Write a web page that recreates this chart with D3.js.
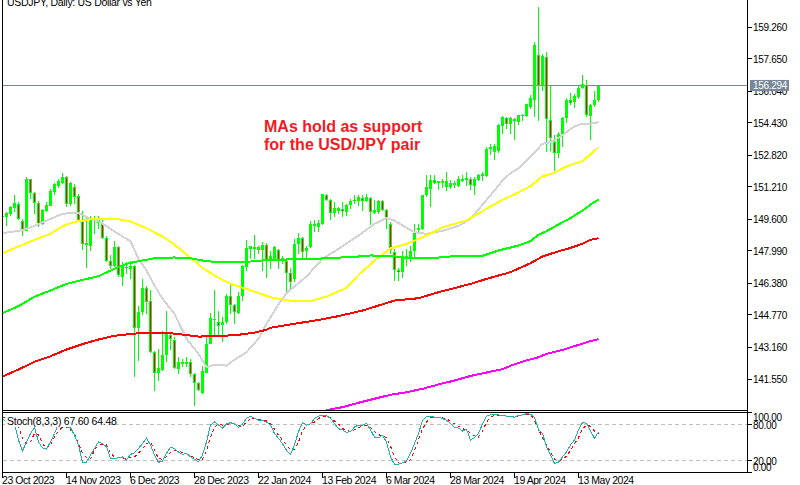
<!DOCTYPE html>
<html>
<head>
<meta charset="utf-8">
<script src="https://cdnjs.cloudflare.com/ajax/libs/d3/7.8.5/d3.min.js"></script>
<style>
  html, body { margin: 0; padding: 0; background: #fff; overflow: hidden; }
  svg { display: block; }
  text { font-family: "Liberation Sans", Arial, sans-serif; fill: #000; }
</style>
</head>
<body>
<script>
// daily candles
const opens = [149.70,149.70,149.83,150.14,150.34,149.47,148.96,151.58,150.87,150.37,
  149.33,150.00,150.25,150.91,151.26,151.38,151.68,150.34,151.21,150.71,
  149.50,148.27,148.24,149.47,149.36,149.36,148.63,147.45,147.23,148.16,
  146.65,147.12,147.07,147.23,144.10,144.89,146.11,145.44,142.87,141.83,
  141.98,142.71,143.76,143.51,142.02,142.29,142.29,142.37,141.78,141.31,
  140.81,141.85,143.29,144.47,144.38,144.22,144.38,145.71,145.26,144.84,
  145.69,147.15,148.07,148.06,148.04,148.04,148.27,147.49,147.57,148.02,
  147.54,147.45,146.87,146.56,148.32,148.63,147.99,148.16,149.20,149.16,
  149.30,150.79,150.54,149.87,149.97,150.09,149.92,150.27,150.47,150.47,
  150.62,150.47,150.64,149.90,149.92,150.47,150.03,149.33,147.90,147.02,
  146.90,147.65,147.62,147.99,149.00,149.08,150.76,151.09,151.54,151.38,
  151.41,151.21,151.21,151.29,151.26,151.51,151.54,151.61,151.26,151.54,
  151.72,151.72,153.11,152.94,152.99,154.23,154.67,154.33,154.53,154.45,
  154.75,154.78,155.20,155.57,157.84,156.29,157.72,154.57,153.44,152.89,
  153.78,154.65,155.54,155.45,155.71,156.16,156.34,154.78,155.29,155.54];
const closes = [149.73,149.88,150.20,150.37,149.58,149.00,151.61,150.89,150.40,149.33,
  150.03,150.29,150.97,151.34,151.48,151.71,150.34,151.38,150.67,149.53,
  148.32,148.39,149.50,149.53,149.58,148.63,147.44,147.20,148.19,146.78,
  147.23,147.18,147.23,144.10,144.89,146.11,145.39,142.87,141.83,142.08,
  142.71,143.80,143.55,142.08,142.39,142.40,142.40,141.78,141.33,140.99,
  141.95,143.29,144.60,144.55,144.18,144.38,145.72,145.27,144.89,145.72,
  147.20,148.12,148.24,148.16,148.16,148.27,147.52,147.69,148.16,147.52,
  147.60,146.85,146.40,148.32,148.63,147.91,148.12,149.30,149.30,149.36,
  150.81,150.54,149.87,150.14,150.14,150.00,150.30,150.50,150.54,150.67,
  150.50,150.67,149.92,150.03,150.50,150.03,149.58,148.02,147.02,146.92,
  147.69,147.69,147.99,148.86,149.10,150.76,151.21,151.56,151.41,151.48,
  151.48,151.48,151.39,151.38,151.59,151.59,151.65,151.29,151.61,151.81,
  151.82,153.11,153.22,153.27,154.28,154.70,154.37,154.65,154.62,154.83,
  154.83,155.34,155.66,158.31,156.29,157.80,154.62,153.66,152.89,153.86,
  154.67,155.54,155.41,155.74,156.18,156.38,154.82,155.32,155.57,156.29];
const highs = [149.78,149.95,150.25,150.76,150.42,149.58,151.71,151.61,150.92,150.47,
  150.09,150.42,151.09,151.38,151.59,151.90,151.75,151.43,151.34,150.84,
  150.00,149.70,149.75,149.72,149.72,149.50,148.74,147.74,148.46,148.24,
  147.40,147.40,147.45,147.28,145.22,146.56,146.18,145.98,142.91,143.04,
  143.96,144.97,143.88,143.63,142.62,142.54,142.62,142.54,141.82,141.36,
  142.20,143.63,144.85,145.98,144.94,144.63,145.81,146.28,145.31,145.89,
  147.28,148.53,148.24,148.79,148.24,148.41,148.36,147.99,148.24,148.07,
  147.69,147.62,147.12,148.58,148.86,148.69,148.24,149.47,149.53,149.50,
  150.84,150.84,150.59,150.42,150.20,150.42,150.34,150.59,150.76,150.76,
  150.76,150.84,150.67,150.54,150.54,150.54,150.09,149.41,148.07,147.12,
  147.99,148.06,148.24,149.30,149.30,150.76,151.81,151.81,151.81,151.51,
  151.59,151.93,151.54,151.51,151.76,151.81,151.93,151.71,151.71,151.85,
  151.93,153.22,153.33,153.36,154.37,154.78,154.73,154.70,154.67,154.83,
  154.87,155.37,155.79,158.47,160.23,157.89,158.00,156.29,153.78,153.95,
  154.70,155.67,155.91,155.87,156.29,156.80,156.55,155.37,156.01,156.26];
const lows = [149.67,149.20,149.75,149.92,149.50,148.74,148.96,150.59,149.83,149.16,
  149.25,149.92,150.25,150.76,151.14,151.34,150.17,150.25,150.34,149.41,
  148.04,147.10,147.96,148.83,149.08,148.58,147.40,147.07,147.15,146.65,
  146.19,146.81,146.56,141.62,142.45,144.72,144.80,142.82,140.91,141.41,
  141.95,142.37,142.96,142.03,141.78,142.12,142.12,141.62,140.19,140.94,
  140.78,141.82,143.29,143.71,143.66,143.38,144.30,144.80,144.30,144.80,
  145.47,146.98,147.57,147.57,147.82,146.95,146.61,147.07,147.57,147.07,
  147.32,145.89,146.06,146.40,147.82,147.57,147.57,148.12,148.91,148.91,
  149.25,150.50,149.50,149.70,149.83,149.67,149.75,150.09,150.34,150.25,
  150.00,150.42,149.25,149.83,149.83,149.97,149.08,147.82,146.45,146.45,
  146.61,147.23,147.40,147.65,148.91,149.00,150.67,150.20,151.34,151.04,
  151.14,150.97,151.09,151.14,151.18,151.43,151.26,151.04,150.76,151.51,
  151.51,151.68,152.77,152.52,152.89,153.86,154.11,153.86,153.53,154.28,
  154.53,154.70,155.12,154.70,154.50,156.04,152.94,153.02,151.98,152.65,
  153.19,154.42,155.29,155.17,155.62,156.13,154.70,153.53,155.20,155.45];

// moving averages, sampled at bar numbers
const grayBars = [0,4,6,8,12,15,18,19,22,24,27,30,32,34,36,38,40,43,46,49,51,53,56,58,61,64,66,
  67,69,71,72,76,80,84,89,93,96,98,101,103,106,110,114,117,120,
  123,125,127,129,131,133,135,137,139,141,143,145,147,149];
const grayVals = [148.86,148.98,149.08,149.23,149.58,149.83,149.90,149.87,149.58,149.47,149.08,148.69,148.46,147.57,146.98,146.23,145.56,144.80,143.55,142.79,142.12,142.24,142.20,142.49,142.87,143.55,144.30,
  144.63,145.27,145.84,146.01,146.68,147.57,148.07,148.74,149.33,149.62,149.50,149.13,148.91,148.83,148.98,149.23,149.58,150.29,
  151.01,151.51,151.88,152.13,152.52,152.91,153.36,153.44,153.66,153.95,154.23,154.37,154.37,154.45];
const yellowBars = [0,4,8,12,15,18,22,25,28,32,36,40,43,47,50,53,57,61,66,
  67,70,73,77,81,86,89,94,97,101,106,110,116,121,125,128,132,135,138,141,145,147,149];
const yellowVals = [147.85,148.19,148.53,148.83,149.21,149.43,149.55,149.60,149.60,149.45,149.11,148.69,148.29,147.62,147.12,146.73,146.31,146.06,145.71,
  145.64,145.52,145.44,145.44,145.67,146.11,146.76,147.65,148.10,148.32,148.74,149.16,149.50,150.09,150.54,150.81,151.23,151.72,151.90,152.22,152.49,152.82,153.19];
const greenBars = [0,4,8,12,16,20,24,28,31,34,38,43,47,51,56,61,66,
  67,74,80,88,92,97,102,107,112,120,124,129,132,134,136,139,142,145,147,149];
const greenVals = [144.84,145.19,145.67,145.98,146.31,146.51,146.70,147.07,147.32,147.45,147.60,147.64,147.60,147.45,147.39,147.42,147.50,
  147.52,147.55,147.59,147.67,147.74,147.72,147.60,147.60,147.69,147.72,147.99,148.24,148.46,148.78,148.96,149.30,149.62,150.00,150.30,150.56];
const redBars = [0,4,8,12,16,20,24,28,33,37,42,45,49,54,59,63,66,
  67,72,80,84,90,98,104,109,117,121,127,132,135,139,142,145,147,149];
const redVals = [141.65,142.00,142.39,142.67,143.01,143.28,143.51,143.70,143.81,143.85,143.83,143.76,143.66,143.68,143.75,143.86,144.00,
  144.10,144.27,144.53,144.69,144.97,145.47,145.59,145.89,146.31,146.56,146.90,147.35,147.69,147.95,148.12,148.33,148.53,148.61];
const magentaBars = [81,85,89,93,97,101,105,109,113,117,121,125,127,131,134,136,140,144,147,149];
const magentaVals = [139.96,140.11,140.33,140.53,140.73,140.86,141.03,141.25,141.45,141.68,141.85,142.02,142.19,142.46,142.62,142.79,142.99,143.24,143.43,143.53];

// stochastic pane
const stochMain = [90,84,86,82,54,36,51,65,75,51,41,39,51,65,82,84,76,75,62,46,
  17,17,29,40,51,48,43,23,23,25,26,21,30,33,40,48,57,46,29,17,
  19,32,42,40,34,30,32,26,22,18,29,51,79,84,79,74,81,83,81,75,
  81,90,94,90,87,87,84,79,65,57,48,37,30,46,68,83,79,81,90,94,
  95,95,90,82,73,71,67,68,76,79,79,82,71,59,58,62,51,26,14,14,
  16,19,32,48,65,87,93,94,92,92,90,87,82,75,74,69,72,54,58,65,
  81,94,96,97,96,95,94,94,92,95,96,98,97,92,71,65,43,29,15,17,
  26,34,46,54,71,83,82,69,57,67.6];
const stochSignal = [93,90,87,84,76,57,48,51,65,63,48,40,46,59,69,76,76,71,65,48,
  33,25,23,37,46,46,46,33,26,25,24,22,25,26,32,40,48,51,37,23,
  22,26,34,37,36,33,31,28,25,21,22,36,59,76,81,79,80,81,81,78,
  77,84,90,90,89,87,86,81,72,62,54,46,38,38,51,69,79,81,84,90,
  93,93,92,86,81,73,71,68,71,75,77,79,75,68,63,61,58,44,26,16,
  15,18,21,36,55,72,84,92,92,92,91,89,86,81,77,73,71,65,61,59,
  69,84,92,95,95,95,94,93,93,94,96,96,97,87,72,58,46,34,22,19,
  22,27,37,48,58,73,79,77,69,64.48];

const priceTicks = [159.26,157.65,156.04,154.43,152.82,151.21,149.60,147.99,146.38,144.77,143.16,141.55];
const lastPrice = 156.294;
const stochTicks = [100,80,20,0];
const stochLabelNudge = [4,0,0,-6];
const dateLabels = ['23 Oct 2023','14 Nov 2023','6 Dec 2023','28 Dec 2023','22 Jan 2024','13 Feb 2024','6 Mar 2024','28 Mar 2024','19 Apr 2024','13 May 2024'];
const dateBars = [0,16,32,48,64,80,96,112,128,144];

const width = 800, height = 485;
const axisX = 747.5;

const svg = d3.select('body').append('svg')
  .attr('width', width).attr('height', height);

const x = d3.scaleLinear().domain([0, 149]).range([2.5, 598.5]);
const y = d3.scaleLinear().domain([159.26, 141.55]).range([26.5, 378.5]);
const yStoch = d3.scaleLinear().domain([100, 0]).range([412.5, 472.5]);

svg.append('defs').append('clipPath').attr('id', 'mainClip')
  .append('rect').attr('x', 3).attr('y', 0).attr('width', 744).attr('height', 410);
svg.select('defs').append('clipPath').attr('id', 'subClip')
  .append('rect').attr('x', 3).attr('y', 413).attr('width', 744).attr('height', 59);

const main = svg.append('g').attr('clip-path', 'url(#mainClip)').attr('shape-rendering', 'crispEdges');

// last price line sits behind the candles
main.append('line')
  .attr('x1', 3).attr('x2', axisX)
  .attr('y1', Math.round(y(lastPrice)) + 0.5).attr('y2', Math.round(y(lastPrice)) + 0.5)
  .attr('stroke', '#778899');

const bars = d3.range(opens.length);

main.selectAll('.wick').data(bars).join('rect')
  .attr('class', 'wick')
  .attr('x', d => Math.floor(x(d)))
  .attr('y', d => y(highs[d]))
  .attr('width', 1)
  .attr('height', d => y(lows[d]) - y(highs[d]))
  .attr('fill', '#00ff00');

main.selectAll('.body').data(bars).join('rect')
  .attr('class', 'body')
  .attr('x', d => Math.floor(x(d)) - 1)
  .attr('y', d => y(Math.max(opens[d], closes[d])))
  .attr('width', 3)
  .attr('height', d => Math.max(1, Math.abs(y(opens[d]) - y(closes[d]))))
  .attr('fill', '#00ff00');

// bearish candles keep the green outline with a red core
main.selectAll('.core').data(bars.filter(d => closes[d] < opens[d])).join('rect')
  .attr('class', 'core')
  .attr('x', d => Math.floor(x(d)))
  .attr('y', d => y(opens[d]) + 1)
  .attr('width', 1)
  .attr('height', d => Math.max(1, y(closes[d]) - y(opens[d]) - 2))
  .attr('fill', '#ff0000');

const maLine = d3.line().x(d => x(d[0])).y(d => y(d[1]));
const maSeries = [
  [grayBars, grayVals, '#d3d3d3'],
  [yellowBars, yellowVals, '#ffff00'],
  [greenBars, greenVals, '#00ff00'],
  [redBars, redVals, '#ff0000'],
  [magentaBars, magentaVals, '#ff00ff']
];
maSeries.forEach(function (s) {
  main.append('path')
    .attr('d', maLine(d3.zip(s[0], s[1])))
    .attr('fill', 'none')
    .attr('stroke', s[2])
    .attr('stroke-width', 2);
});

// stochastic
const sub = svg.append('g').attr('clip-path', 'url(#subClip)').attr('shape-rendering', 'crispEdges');
[80, 20].forEach(function (level) {
  sub.append('line')
    .attr('x1', 3).attr('x2', axisX)
    .attr('y1', yStoch(level)).attr('y2', yStoch(level))
    .attr('stroke', '#c0c0c0')
    .attr('stroke-dasharray', '4 3');
});
const stochLine = d3.line().x((d, i) => x(i)).y(d => yStoch(d));
sub.append('path').attr('d', stochLine(stochSignal))
  .attr('fill', 'none').attr('stroke', '#ff0000').attr('stroke-dasharray', '3 3');
sub.append('path').attr('d', stochLine(stochMain))
  .attr('fill', 'none').attr('stroke', '#20b2aa');

// pane label has a white box that hides what runs under it
sub.append('rect').attr('x', 5).attr('y', 413).attr('width', 104).attr('height', 14).attr('fill', '#fff');
svg.append('text').attr('x', 7).attr('y', 425).attr('font-size', 10.5).attr('letter-spacing', -0.25)
  .text('Stoch(8,3,3) 67.60 64.48');

// frame
const frame = svg.append('g').attr('stroke', '#000').attr('shape-rendering', 'crispEdges');
frame.append('line').attr('x1', 2.5).attr('x2', 2.5).attr('y1', 0).attr('y2', 472.5);
frame.append('line').attr('x1', axisX).attr('x2', axisX).attr('y1', 0).attr('y2', 472.5);
frame.append('line').attr('x1', 2.5).attr('x2', axisX).attr('y1', 410.5).attr('y2', 410.5);
frame.append('line').attr('x1', 2.5).attr('x2', axisX).attr('y1', 412.5).attr('y2', 412.5);
frame.append('line').attr('x1', 2.5).attr('x2', axisX).attr('y1', 472.5).attr('y2', 472.5);

// price axis
frame.selectAll('.ptick').data(priceTicks).join('line')
  .attr('class', 'ptick')
  .attr('x1', axisX).attr('x2', axisX + 4)
  .attr('y1', d => Math.round(y(d)) + 0.5).attr('y2', d => Math.round(y(d)) + 0.5);
svg.selectAll('.plabel').data(priceTicks).join('text')
  .attr('class', 'plabel')
  .attr('x', 753).attr('y', d => y(d) + 4)
  .attr('font-size', 10).attr('letter-spacing', -0.3)
  .text(d => d.toFixed(3));

// last price flag
svg.append('rect')
  .attr('x', 750).attr('y', y(lastPrice) - 5.5).attr('width', 39).attr('height', 11)
  .attr('fill', '#778899');
svg.append('text')
  .attr('x', 753).attr('y', y(lastPrice) + 4)
  .attr('font-size', 10).attr('letter-spacing', -0.3)
  .style('fill', '#fff')
  .text(lastPrice.toFixed(3));

// stochastic axis
frame.selectAll('.stick').data(stochTicks).join('line')
  .attr('class', 'stick')
  .attr('x1', axisX).attr('x2', axisX + 4)
  .attr('y1', d => yStoch(d)).attr('y2', d => yStoch(d));
svg.selectAll('.slabel').data(stochTicks).join('text')
  .attr('class', 'slabel')
  .attr('x', 753).attr('y', (d, i) => yStoch(d) + 4 + stochLabelNudge[i])
  .attr('font-size', 10).attr('letter-spacing', -0.3)
  .text(d => d.toFixed(2));

// date axis
frame.selectAll('.dtick').data(dateBars).join('line')
  .attr('class', 'dtick')
  .attr('x1', d => Math.floor(x(d)) + 0.5).attr('x2', d => Math.floor(x(d)) + 0.5)
  .attr('y1', 472.5).attr('y2', 477.5);
svg.selectAll('.dlabel').data(dateBars).join('text')
  .attr('class', 'dlabel')
  .attr('x', d => Math.floor(x(d))).attr('y', 484)
  .attr('font-size', 10.5).attr('letter-spacing', -0.45)
  .text((d, i) => dateLabels[i]);

// title, clipped by the window top as in the screenshot
svg.append('text').attr('x', 7).attr('y', 6).attr('font-size', 10.5).attr('letter-spacing', -0.3)
  .text('USDJPY, Daily:  US Dollar vs Yen');

// annotation
svg.selectAll('.note').data(['MAs hold as support', 'for the USD/JPY pair']).join('text')
  .attr('class', 'note')
  .attr('x', 264).attr('y', (d, i) => 132 + i * 18)
  .attr('font-size', 16).attr('font-weight', 700)
  .style('fill', '#f01c24')
  .text(d => d);
</script>
</body>
</html>
